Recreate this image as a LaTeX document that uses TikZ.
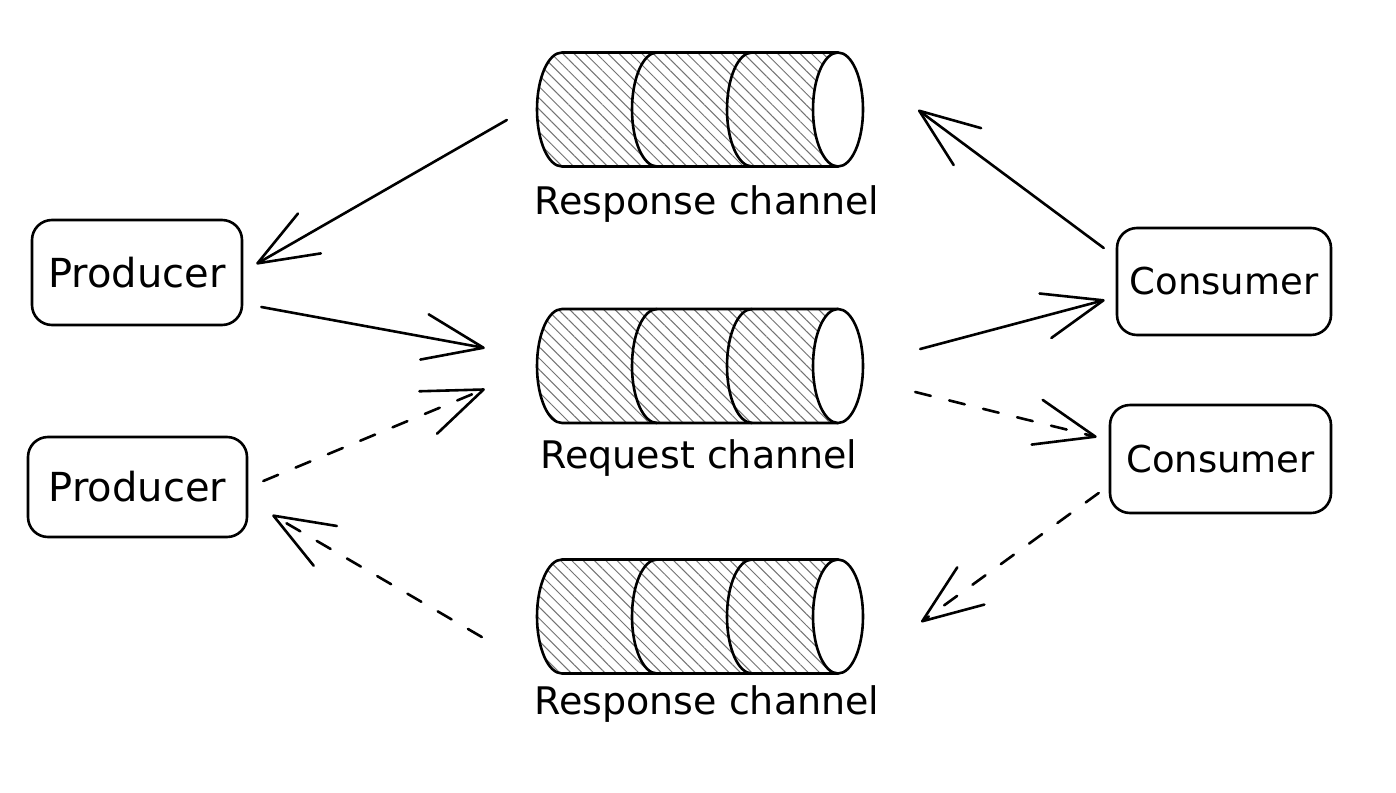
\documentclass[tikz,border=0pt]{standalone}
\usepackage{fontspec}
\setmainfont{DejaVu Sans}
\usetikzlibrary{arrows.meta,patterns.meta}
\begin{document}
\begin{tikzpicture}[x=1pt,y=-1pt,
  ln/.style={line width=2.6pt,line cap=round,line join=round},
  box/.style={draw,line width=2.6pt,rounded corners=20pt,inner sep=0pt},
  chanbox/.style={inner sep=0pt,minimum width=326pt,minimum height=115pt},
  hatch/.style={pattern={Lines[angle=-45,distance=8pt,line width=1pt]},pattern color=black!55},
  arr/.style={ln,-{Straight Barb[length=60pt,width=46pt,round]}},
  dsh/.style={dash pattern=on 16pt off 19pt},
  lbl/.style={font=\fontsize{38}{44}\selectfont,inner sep=0pt},
  pics/channel/.style={code={
    \fill[hatch] (-138,-57) arc[start angle=270,end angle=90,x radius=25,y radius=57]
      -- (138,57) arc[start angle=90,end angle=270,x radius=25,y radius=57] -- cycle;
    \draw[ln] (138,-57) -- (-138,-57) arc[start angle=270,end angle=90,x radius=25,y radius=57] -- (138,57);
    \draw[ln,fill=white] (138,0) ellipse[x radius=25,y radius=57];
    \draw[ln] (-43,-57) arc[start angle=270,end angle=90,x radius=25,y radius=57];
    \draw[ln] (52,-57) arc[start angle=270,end angle=90,x radius=25,y radius=57];
  }}]
\fill[white] (0,0) rectangle (1396,792);
\useasboundingbox (0,0) rectangle (1396,792);

% channels
\pic at (700,109.5) {channel};
\pic at (700,366) {channel};
\pic at (700,616.5) {channel};
\node[chanbox] (resp1) at (700,109.5) {};
\node[chanbox] (req) at (700,366) {};
\node[chanbox] (resp2) at (700,616.5) {};
\node[lbl,anchor=base] (resp1lbl) at (707,214) {Response channel};
\node[lbl,anchor=base] (reqlbl) at (699,468) {Request channel};
\node[lbl,anchor=base] (resp2lbl) at (707,714) {Response channel};

% boxes
\node[box,minimum width=210pt,minimum height=105pt,font=\fontsize{40}{46}\selectfont] (prod1) at (137,272.5) {Producer};
\node[box,minimum width=219pt,minimum height=100pt,font=\fontsize{40}{46}\selectfont] (prod2) at (137.5,487) {Producer};
\node[box,minimum width=214pt,minimum height=107pt,font=\fontsize{37}{43}\selectfont] (cons1) at (1224,281.5) {Consumer};
\node[box,minimum width=221pt,minimum height=108pt,font=\fontsize{37}{43}\selectfont] (cons2) at (1220.5,459) {Consumer};

% arrows
\draw[arr] ([shift={(-30,10.5)}]resp1.west) -- ([shift={(13,-8.5)}]prod1.east);
\draw[arr] ([shift={(18,34.5)}]prod1.east) -- ([shift={(-52,-18)}]req.west);
\draw[arr,dsh] ([shift={(15,-6)}]prod2.east) -- ([shift={(-52,23)}]req.west);
\draw[arr,dsh] ([shift={(-55,20.5)}]resp2.west) -- ([shift={(24,28)}]prod2.east);
\draw[arr] ([shift={(-12,-33.5)}]cons1.west) -- ([shift={(55,0.5)}]resp1.east);
\draw[arr] ([shift={(57,-17)}]req.east) -- ([shift={(-11,18.5)}]cons1.west);
\draw[arr,dsh] ([shift={(52,26)}]req.east) -- ([shift={(-12,-22)}]cons2.west);
\draw[arr,dsh] ([shift={(-10,34)}]cons2.west) -- ([shift={(58,5.5)}]resp2.east);
\end{tikzpicture}
\end{document}
